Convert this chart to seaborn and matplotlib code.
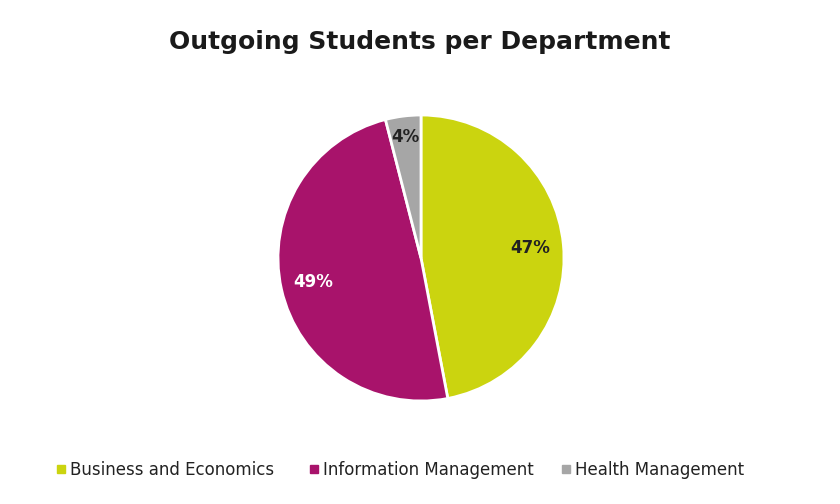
import matplotlib
matplotlib.use("Agg")
import matplotlib.pyplot as plt
import seaborn as sns
from matplotlib.lines import Line2D
import numpy as np

categories = ["Business and Economics", "Information Management", "Health Management"]
shares = [47, 49, 4]
colors = ["#cbd40f", "#a8136b", "#a6a6a6"]
label_colors = ["#222222", "#ffffff", "#222222"]

sns.set_theme(style="white")
plt.rcParams['font.family'] = ['DejaVu Sans']

fig = plt.figure(figsize=(8.4, 5.04), dpi=100)
cx, cy, r = 421, 258, 143
ax = fig.add_axes([(cx - r) / 840, (504 - cy - r) / 504, 2 * r / 840, 2 * r / 504])

wedges, texts, autotexts = ax.pie(
    shares, colors=colors, startangle=90, counterclock=False,
    autopct=lambda p: f"{p:.0f}%", pctdistance=0.77,
    wedgeprops=dict(edgecolor="white", linewidth=2),
    textprops=dict(fontsize=12, fontweight="bold"))
for t, c in zip(autotexts, label_colors):
    t.set_color(c)
# small slice label sits further out
x, y = autotexts[2].get_position()
autotexts[2].set_position((x * 0.85 / 0.77, y * 0.85 / 0.77))
ax.set_xlim(-1, 1)
ax.set_ylim(-1, 1)
ax.set_aspect("equal")
ax.axis("off")

fig.text(0.5, 1 - 42 / 504, "Outgoing Students per Department", ha="center", va="center",
         fontsize=18, fontweight="heavy", color="#1a1a1a")

# legend entries laid out in equal-width columns
col_left = [56, 309, 561]
for cat, c, xl in zip(categories, colors, col_left):
    h = Line2D([], [], marker="s", linestyle="", markersize=6, markerfacecolor=c,
               markeredgecolor=c)
    fig.legend([h], [cat], loc="center left", bbox_to_anchor=(xl / 840, 1 - 470 / 504),
               frameon=False, fontsize=12, handlelength=0.6, handletextpad=0.25,
               labelcolor="#222222", borderpad=0, borderaxespad=0)

fig.savefig("out.png", dpi=100)
